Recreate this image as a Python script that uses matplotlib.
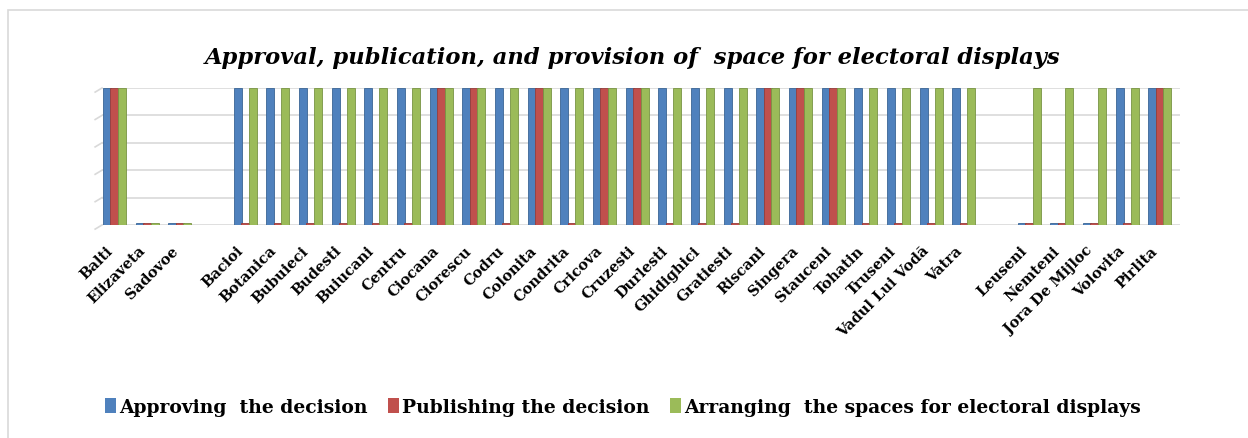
import matplotlib
matplotlib.use("Agg")
import matplotlib.pyplot as plt
from matplotlib.patches import Patch, Rectangle
from matplotlib.transforms import ScaledTranslation
import numpy as np

# municipalities on the x axis ('' = empty slot between groups)
places = ["Balti", "Elizaveta", "Sadovoe", "",
          "Bacioi", "Botanica", "Bubuieci", "Budesti", "Buiucani", "Centru",
          "Ciocana", "Ciorescu", "Codru", "Colonita", "Condrita", "Cricova",
          "Cruzesti", "Durlesti", "Ghidighici", "Gratiesti", "Riscani",
          "Singera", "Stauceni", "Tohatin", "Truseni", "Vadul Lui Vodă",
          "Vatra", "",
          "Leuseni", "Nemteni", "Jora De Mijloc", "Volovita", "Pirlita"]

nan = np.nan
approving = [1, 0, 0, nan,
             1, 1, 1, 1, 1, 1, 1, 1, 1, 1, 1, 1, 1, 1, 1, 1, 1, 1, 1, 1, 1, 1, 1, nan,
             0, 0, 0, 1, 1]
publishing = [1, 0, 0, nan,
              0, 0, 0, 0, 0, 0, 1, 1, 0, 1, 0, 1, 1, 0, 0, 0, 1, 1, 1, 0, 0, 0, 0, nan,
              0, 0, 0, 0, 1]
arranging = [1, 0, 0, nan,
             1, 1, 1, 1, 1, 1, 1, 1, 1, 1, 1, 1, 1, 1, 1, 1, 1, 1, 1, 1, 1, 1, 1, nan,
             1, 1, 1, 1, 1]

series = [
    ("Approving  the decision", approving, "#4F81BD", "#3A6595"),
    ("Publishing the decision", publishing, "#C0504D", "#983C3A"),
    ("Arranging  the spaces for electoral displays", arranging, "#9BBB59", "#789443"),
]

SERIF = "DejaVu Serif"
STUB = 0.015  # zero values still show as a thin flat bar

fig = plt.figure(figsize=(12.48, 4.39), dpi=100)
fig.patches.append(Rectangle((8 / 1248, -0.2), 1.2, 1.2 - 11 / 439,
                             transform=fig.transFigure, fill=False,
                             edgecolor="#D9D9D9", linewidth=1.2))

ax = fig.add_axes([102 / 1248, 1 - 226 / 439, (1180 - 102) / 1248, (226 - 89) / 439])

x = np.arange(len(places))
offsets = [-0.35, -0.12, 0.11]
width = 0.245
for (label, vals, face, edge), off in zip(series, offsets):
    v = np.array(vals, dtype=float)
    h = np.where(v == 0, STUB, v)
    ax.bar(x + off, h, width=width, color=face, edgecolor=edge,
           linewidth=0.6, zorder=3)

ax.set_xlim(-0.5, len(places) - 0.5)
ax.set_ylim(0, 1)
yt = np.linspace(0, 1, 6)
ax.set_yticks(yt)
ax.set_yticklabels([])
ax.tick_params(axis="y", length=0)
ax.grid(axis="y", color="#D9D9D9", linewidth=1.2, zorder=0)
for s in ax.spines.values():
    s.set_visible(False)

# little slanted ticks on the left wall
for y in yt:
    ax.plot([-0.71, -0.5], [y - 0.03, y], color="#D9D9D9", lw=1.2,
            clip_on=False, zorder=1)

ax.set_xticks(x)
ax.set_xticklabels(places, rotation=45, ha="right", va="top",
                   rotation_mode="anchor", fontsize=10.5, fontweight="bold",
                   family=SERIF)
ax.tick_params(axis="x", length=0, pad=13)
shift = ScaledTranslation(-13 / 100, 0, fig.dpi_scale_trans)
for t in ax.get_xticklabels():
    t.set_transform(t.get_transform() + shift)

fig.text(0.507, 1 - 58 / 439,
         "Approval, publication, and provision of  space for electoral displays",
         ha="center", va="center", fontsize=16.3, fontweight="bold",
         fontstyle="italic", family=SERIF)

handles = [Patch(facecolor=c) for _, _, c, _ in series]
fig.legend(handles, [s[0] for s in series], loc="center",
           bbox_to_anchor=(0.499, 1 - 408 / 439), ncol=3, frameon=False,
           handlelength=0.6, handleheight=0.8, handletextpad=0.15,
           columnspacing=1.1, prop={"family": SERIF, "weight": "bold", "size": 13.5})

fig.savefig("out.png", dpi=100)
